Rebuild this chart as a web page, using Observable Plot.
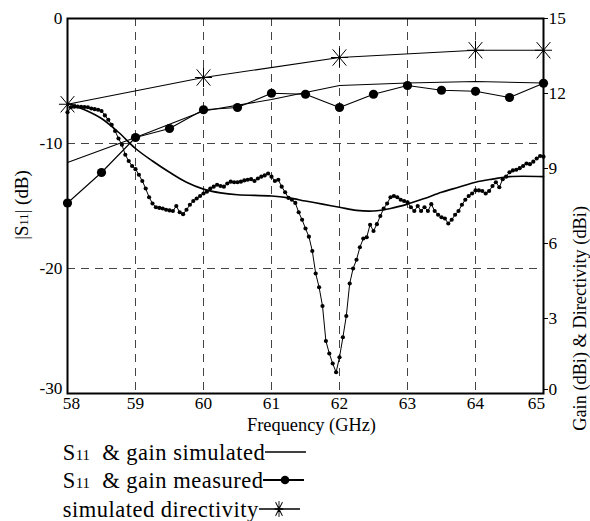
<!DOCTYPE html>
<html><head><meta charset="utf-8">
<script src="https://cdn.jsdelivr.net/npm/d3@7"></script>
<script src="https://cdn.jsdelivr.net/npm/@observablehq/plot@0.6"></script>
<style>
body{margin:0;background:#fff;color:#000;}
#chart svg{overflow:visible;display:block;}
#legend{margin-left:62.7px;line-height:28.3px;}
.row{white-space:nowrap;height:28.3px;}
.row svg{vertical-align:-2px;}
.sub{font-size:0.66em;letter-spacing:0;}
</style></head><body>
<div id="chart"></div>
<div id="legend"></div>
<script>
// ---- data ----
const xTicks = [58, 59, 60, 61, 62, 63, 64, 65];
const xGrid = [59, 60, 61, 62, 63, 64];
const s11Ticks = [0, -10, -20, -30];
const s11Grid = [-10, -20];
const gainTicks = [0, 3, 6, 9, 12, 15];

const simS11Freq = [58.0, 58.25, 58.5, 58.75, 59.0, 59.25, 59.5, 59.75, 60.0, 60.25, 60.5, 61.0, 61.25, 61.5, 61.75, 62.0, 62.25, 62.5, 62.75, 63.0, 63.25, 63.5, 63.75, 64.0, 64.25, 64.5, 65.0];
const simS11Db = [-6.8, -7.3, -8.0, -9.1, -10.4, -11.4, -12.3, -13.1, -13.65, -13.95, -14.1, -14.2, -14.35, -14.6, -14.85, -15.1, -15.35, -15.4, -15.2, -14.85, -14.4, -13.9, -13.5, -13.1, -12.85, -12.65, -12.65];

const measS11Freq = [58.00,58.05,58.10,58.15,58.20,58.25,58.30,58.35,58.40,58.45,58.50,58.55,58.60,58.65,58.70,58.75,58.80,58.85,58.90,58.95,
59.00,59.05,59.10,59.15,59.20,59.25,59.30,59.35,59.40,59.45,59.50,59.55,59.60,59.65,59.70,59.75,59.80,59.85,59.90,59.95,
60.00,60.05,60.10,60.15,60.20,60.25,60.30,60.35,60.40,60.45,60.50,60.55,60.60,60.65,60.70,60.75,60.80,60.85,60.90,60.95,
61.00,61.05,61.10,61.15,61.20,61.25,61.30,61.35,61.40,61.45,61.50,61.55,61.60,61.65,61.70,61.75,61.80,61.85,61.90,61.95,
62.00,62.05,62.10,62.15,62.20,62.25,62.30,62.35,62.40,62.45,62.50,62.55,62.60,62.65,62.70,62.75,62.80,62.85,62.90,62.95,
63.00,63.05,63.10,63.15,63.20,63.25,63.30,63.35,63.40,63.45,63.50,63.55,63.60,63.65,63.70,63.75,63.80,63.85,63.90,63.95,
64.00,64.05,64.10,64.15,64.20,64.25,64.30,64.35,64.40,64.45,64.50,64.55,64.60,64.65,64.70,64.75,64.80,64.85,64.90,64.95,65.00];
const measS11Db = [-7.5,-7.1,-7.05,-7.05,-7.07,-7.08,-7.1,-7.2,-7.25,-7.3,-7.4,-7.75,-8.1,-8.5,-9.0,-9.6,-10.1,-10.9,-11.4,-11.8,
-12.05,-12.5,-13.0,-13.6,-14.3,-14.8,-15.1,-15.15,-15.2,-15.3,-15.35,-15.4,-15.0,-15.5,-15.65,-15.3,-14.9,-14.6,-14.4,-14.2,
-14.0,-13.85,-13.6,-13.45,-13.3,-13.4,-13.45,-13.2,-13.05,-13.1,-13.1,-13.05,-12.95,-12.9,-12.85,-13.0,-12.8,-12.65,-12.55,-12.4,
-12.65,-13.0,-12.9,-13.45,-13.9,-14.35,-14.5,-14.75,-15.5,-16.1,-16.8,-17.45,-18.6,-20.4,-21.5,-23.0,-25.8,-26.8,-27.6,-28.3,
-27.1,-25.5,-23.8,-21.2,-20.0,-19.3,-18.3,-17.6,-17.5,-16.5,-17.0,-16.45,-15.8,-15.2,-14.8,-14.3,-14.2,-14.3,-14.5,-14.6,
-14.7,-15.1,-15.4,-15.0,-15.4,-15.1,-15.4,-14.85,-15.4,-15.7,-15.9,-16.0,-16.4,-16.1,-15.7,-15.4,-14.9,-14.5,-14.2,-14.0,
-13.75,-13.75,-13.8,-14.0,-13.8,-13.4,-13.1,-13.5,-12.85,-12.65,-12.3,-12.15,-12.1,-11.97,-11.8,-11.6,-11.65,-11.45,-11.2,-11.0,-11.05];

const simGainFreq = [58, 59, 60, 61, 62, 63, 64, 65];
const simGainDbi = [9.24, 10.24, 11.3, 11.76, 12.32, 12.42, 12.48, 12.42];

const measGainFreq = [58, 58.5, 59, 59.5, 60, 60.5, 61, 61.5, 62, 62.5, 63, 63.5, 64, 64.5, 65];
const measGainDbi = [7.62, 8.84, 10.24, 10.6, 11.35, 11.44, 12.01, 11.97, 11.44, 11.97, 12.32, 12.13, 12.09, 11.84, 12.41];

const dirFreq = [58, 60, 62, 64, 65];
const dirDbi = [11.57, 12.64, 13.44, 13.73, 13.73];

const legendLabels = [["S", "11", " \u00a0& gain simulated"], ["S", "11", " \u00a0& gain measured"], ["", "", "simulated directivity"]];

// ---- font choice (serif, Times-like) ----
const ctx2 = document.createElement("canvas").getContext("2d");
function hasFont(f) {
  const s = "mmmmmmmmmmlli1WQ@#abcxyz0123456789";
  for (const base of ["monospace", "sans-serif", "serif"]) {
    ctx2.font = `72px ${base}`; const w0 = ctx2.measureText(s).width;
    ctx2.font = `72px "${f}", ${base}`; const w1 = ctx2.measureText(s).width;
    if (w0 !== w1) return true;
  }
  return false;
}
const FONT = ["Liberation Serif", "Tinos", "Times New Roman", "Nimbus Roman", "Nimbus Roman No9 L", "DejaVu Serif", "Noto Serif", "FreeSerif"].find(hasFont) || "serif";
const FF = `"${FONT}", serif`;
function textW(s, fs) { ctx2.font = `${fs}px ${FF}`; return ctx2.measureText(s).width; }
const fitSize = (s, target, maxFs) => Math.min(maxFs, target / (textW(s, 100) / 100));
const axisFs = fitSize("Frequency (GHz)", 129, 18.5);
const tickFs = fitSize("58", 17.3, 18);
const rightLabFs = fitSize("Gain (dBi) & Directivity (dBi)", 225, 18.5);
const legendFs = fitSize("simulated directivity", 196, 22.5);
const legendLs = Math.max(0, (196 - textW("simulated directivity", legendFs)) / 21);

// ---- helpers ----
const toLeft = g => g * 2 - 30; // gain axis (0..15) onto S11 axis (-30..0)
const zipS = (xs, ys) => xs.map((x, i) => ({x, y: ys[i]}));
const zipG = (xs, ys) => xs.map((x, i) => ({x, y: toLeft(ys[i])}));
const star = {
  draw(ctx, size) {
    const r = Math.sqrt(size / Math.PI);
    ctx.moveTo(0, -r); ctx.lineTo(0, r);
    ctx.moveTo(-r * 0.9, 0); ctx.lineTo(r * 0.9, 0);
    const a = 0.72 * r, b = 0.86 * r;
    ctx.moveTo(-a, -b); ctx.lineTo(a, b);
    ctx.moveTo(-a, b); ctx.lineTo(a, -b);
  }
};

const simS11 = zipS(simS11Freq, simS11Db);
const measS11 = zipS(measS11Freq, measS11Db);
const simGain = zipG(simGainFreq, simGainDbi);
const measGain = zipG(measGainFreq, measGainDbi);
const dir = zipG(dirFreq, dirDbi);

const dash = {stroke: "#444", strokeOpacity: 1, strokeWidth: 1, strokeDasharray: "8,6"};
const fmt = d => String(d);
const xMid = xTicks.slice(1, -1);
const yMain = s11Ticks.filter(d => d !== -30);
const gMain = gainTicks.filter(d => d !== 0);
const xAx = {tickSize: 0, tickPadding: 3, tickFormat: fmt, label: null};
const yAx = {anchor: "left", tickSize: 0, tickPadding: 5, tickFormat: fmt, label: null};
const gAx = {anchor: "right", tickSize: 4, tickPadding: 1, tickFormat: d => String((d + 30) / 2), label: null};

const chart = Plot.plot({
  width: 590, height: 439,
  marginLeft: 67, marginRight: 47, marginTop: 18, marginBottom: 46,
  style: {fontFamily: FF, fontSize: tickFs + "px", background: "#fff", color: "#000", overflow: "visible"},
  x: {domain: [58, 65]},
  y: {domain: [-30, 0]},
  marks: [
    Plot.gridX(xGrid, dash),
    Plot.gridY(s11Grid, dash),
    Plot.axisX(xMid, xAx),
    Plot.axisX([xTicks[0]], {...xAx, dx: 4}),
    Plot.axisX([xTicks[xTicks.length - 1]], {...xAx, dx: -7}),
    Plot.axisY(yMain, yAx),
    Plot.axisY([-30], {...yAx, dy: -5}),
    Plot.axisY(gMain.map(toLeft), gAx),
    Plot.axisY([toLeft(0)], {...gAx, dy: -4}),
    Plot.line(simS11, {x: "x", y: "y", stroke: "#000", strokeWidth: 1.6, curve: "catmull-rom"}),
    Plot.line(measS11, {x: "x", y: "y", stroke: "#000", strokeWidth: 1}),
    Plot.dot(measS11, {x: "x", y: "y", r: 2.1, fill: "#000"}),
    Plot.line(simGain, {x: "x", y: "y", stroke: "#000", strokeWidth: 1.1}),
    Plot.line(measGain, {x: "x", y: "y", stroke: "#000", strokeWidth: 1.1}),
    Plot.dot(measGain, {x: "x", y: "y", r: 4.6, fill: "#000"}),
    Plot.line(dir, {x: "x", y: "y", stroke: "#000", strokeWidth: 1.1}),
    Plot.dot(dir, {x: "x", y: "y", r: 9.5, symbol: star, stroke: "#000", strokeWidth: 1, fill: "none"}),
    Plot.text(["Frequency (GHz)"], {frameAnchor: "bottom", dy: 37, dx: 6, fontSize: axisFs, fill: "#000"}),
    Plot.text(["Gain (dBi) & Directivity (dBi)"], {frameAnchor: "right", dx: 37, rotate: -90, fontSize: rightLabFs, fill: "#000"}),
    Plot.frame({stroke: "#000", strokeWidth: 2})
  ]
});
document.getElementById("chart").appendChild(chart);

// left axis label with small "11"
const lab = d3.select(chart).append("text")
  .attr("transform", "translate(21,205) rotate(-90)")
  .attr("text-anchor", "middle").attr("dy", "0.35em")
  .attr("font-size", axisFs * 1.03).attr("fill", "#000")
  .attr("font-family", FF);
lab.append("tspan").text("|S");
lab.append("tspan").attr("font-size", axisFs * 0.68).text("11");
lab.append("tspan").text("| (dB)");

// legend below the chart
const legend = document.getElementById("legend");
legend.style.fontFamily = FF;
legend.style.fontSize = legendFs + "px";
legend.style.letterSpacing = legendLs + "px";
legendLabels.forEach((parts, i) => {
  const row = document.createElement("div");
  row.className = "row";
  const t = document.createElement("span");
  t.append(parts[0]);
  if (parts[1]) { const s = document.createElement("span"); s.className = "sub"; s.textContent = parts[1]; t.append(s); }
  t.append(parts[2]);
  row.append(t);
  const ns = "http://www.w3.org/2000/svg";
  const svg = document.createElementNS(ns, "svg");
  svg.setAttribute("width", 42); svg.setAttribute("height", 20);
  const ln = document.createElementNS(ns, "line");
  ln.setAttribute("x1", 0); ln.setAttribute("x2", 41); ln.setAttribute("y1", 10); ln.setAttribute("y2", 10);
  ln.setAttribute("stroke", "#000"); ln.setAttribute("stroke-width", i === 1 ? 2 : 1.3);
  svg.append(ln);
  if (i === 1) {
    const c = document.createElementNS(ns, "circle");
    c.setAttribute("cx", 22); c.setAttribute("cy", 10); c.setAttribute("r", 4.3); c.setAttribute("fill", "#000");
    svg.append(c);
  } else if (i === 2) {
    const p = document.createElementNS(ns, "path");
    const pth = d3.path(); star.draw(pth, Math.PI * 8 * 8);
    p.setAttribute("d", pth.toString()); p.setAttribute("transform", "translate(20,10) scale(0.6,1)");
    p.setAttribute("stroke", "#000"); p.setAttribute("stroke-width", 1.5); p.setAttribute("fill", "none");
    svg.append(p);
  }
  row.append(svg);
  legend.append(row);
});
</script>
</body></html>
